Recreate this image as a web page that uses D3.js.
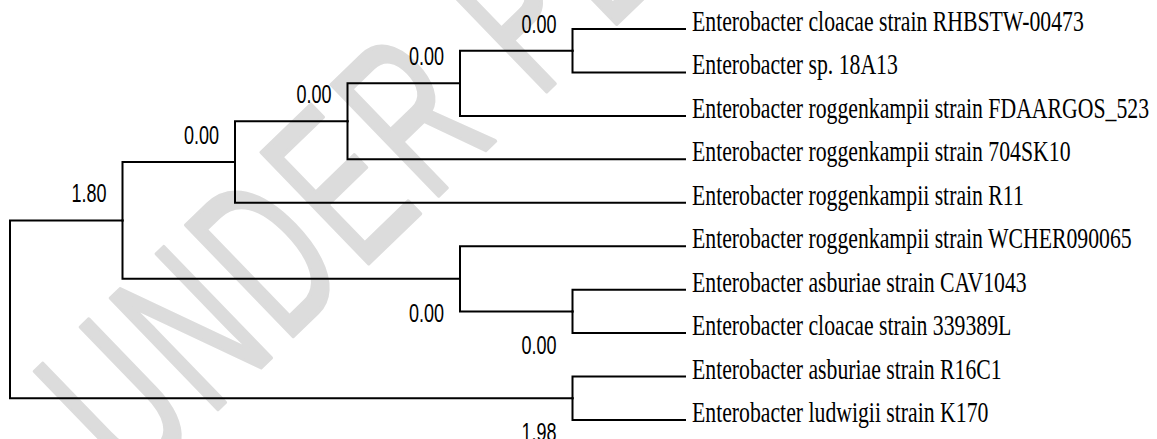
<!DOCTYPE html>
<html>
<head>
<meta charset="utf-8">
<script src="https://cdn.jsdelivr.net/npm/d3@7"></script>
<style>
  body { margin: 0; background: #fff; }
  svg { display: block; }
  .leaf { font-family: "Liberation Serif", "Times New Roman", Times, "DejaVu Serif", serif; }
  .value, .mark { font-family: "Liberation Sans", Arial, Helvetica, sans-serif; }
</style>
</head>
<body>
<div id="chart"></div>
<script>
// tree rows, listed top to bottom (children keep this order)
const nodeIds = [
  "root", "n1", "n2", "n3", "n4", "n5",
  "Enterobacter cloacae strain RHBSTW-00473",
  "Enterobacter sp. 18A13",
  "Enterobacter roggenkampii strain FDAARGOS_523",
  "Enterobacter roggenkampii strain 704SK10",
  "Enterobacter roggenkampii strain R11",
  "n6",
  "Enterobacter roggenkampii strain WCHER090065",
  "n7",
  "Enterobacter asburiae strain CAV1043",
  "Enterobacter cloacae strain 339389L",
  "n8",
  "Enterobacter asburiae strain R16C1",
  "Enterobacter ludwigii strain K170"
];
const parentIds = [
  null, "root", "n1", "n2", "n3", "n4",
  "n5", "n5", "n4", "n3", "n2",
  "n1", "n6", "n6", "n7", "n7",
  "root", "n8", "n8"
];
// value shown on the branch leading to each internal node
const branchLabels = [
  "", "1.80", "0.00", "0.00", "0.00", "0.00",
  "", "", "", "", "",
  "0.00", "", "0.00", "", "",
  "1.98", "", ""
];
const watermark = "UNDER PEER REVIEW";

const width = 1157, height = 439;

const svg = d3.select("#chart").append("svg")
  .attr("width", width)
  .attr("height", height);

// faint watermark behind the tree
svg.append("text")
  .attr("class", "mark")
  .attr("transform", "translate(134,490) rotate(-44) scale(0.6,1)")
  .attr("font-size", 224)
  .attr("letter-spacing", 13)
  .attr("fill", "#dcdcdc")
  .attr("stroke", "#dcdcdc")
  .attr("stroke-width", 4)
  .attr("stroke-linejoin", "round")
  .text(watermark);

const rows = nodeIds.map((id, i) => ({ id: id, parent: parentIds[i], label: branchLabels[i] }));
const root = d3.stratify()
  .id(d => d.id)
  .parentId(d => d.parent)(rows);

const leafCount = root.leaves().length;
d3.cluster().size([leafCount, 1]).separation(() => 1)(root);

const y = d3.scaleLinear().domain([0.5, leafCount - 0.5]).range([29, 420]);
const x = d3.scaleLinear().domain([0, 1]).range([10, 685]);

const g = svg.append("g");

// elbow branches
g.selectAll("path.branch")
  .data(root.descendants().filter(d => d.parent))
  .enter().append("path")
  .attr("class", "branch")
  .attr("d", d => `M${x(d.parent.y)},${y(d.parent.x)}V${y(d.x)}H${x(d.y)}`)
  .attr("fill", "none")
  .attr("stroke", "#000")
  .attr("stroke-width", 2)
  .attr("stroke-linecap", "square");

// branch values: first child above the line, second child below
g.selectAll("text.value")
  .data(root.descendants().filter(d => d.data.label))
  .enter().append("text")
  .attr("class", "value")
  .attr("transform", d => {
    const above = d.parent.children[0] === d;
    return `translate(${x(d.y) - 16},${y(d.x) + (above ? -18 : 43)}) scale(0.72,1)`;
  })
  .attr("text-anchor", "end")
  .attr("font-size", 25)
  .attr("fill", "#000")
  .text(d => d.data.label);

// leaf names
g.selectAll("text.leaf")
  .data(root.leaves())
  .enter().append("text")
  .attr("class", "leaf")
  .attr("transform", d => `translate(${x(d.y) + 7},${y(d.x) + 2}) scale(0.725,1)`)
  .attr("font-size", 30)
  .attr("fill", "#000")
  .text(d => d.id);
</script>
</body>
</html>
